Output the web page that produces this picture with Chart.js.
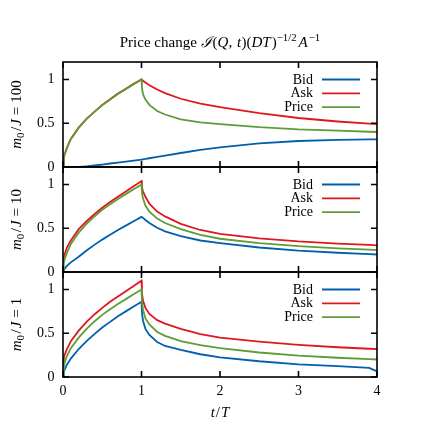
<!DOCTYPE html>
<html>
<head>
<meta charset="utf-8">
<script src="https://cdn.jsdelivr.net/npm/chart.js@4.4.0/dist/chart.umd.min.js"></script>
<style>
  html, body { margin: 0; padding: 0; background: #fff; }
  #wrap { width: 441px; height: 441px; }
</style>
</head>
<body>
<div id="wrap"><canvas id="chart" width="441" height="441"></canvas></div>
<script>
// time axis, t/T
const tValues = [0, 0.01, 0.02, 0.05, 0.1, 0.2, 0.3, 0.4, 0.5, 0.6, 0.7, 0.8, 0.9, 1.0,
  1.005, 1.01, 1.02, 1.05, 1.1, 1.2, 1.3, 1.5, 1.75, 2, 2.5, 3, 3.5, 3.9, 4];

// m0/J = 100
const bid100 = [0, 0, 0, 0, 0, 0, 0.008, 0.017, 0.028, 0.04, 0.05, 0.062, 0.074, 0.085,
  0.086, 0.087, 0.088, 0.092, 0.1, 0.115, 0.13, 0.16, 0.195, 0.225, 0.27, 0.297, 0.31, 0.315, 0.316];
const ask100 = [0, 0.1, 0.14, 0.22, 0.32, 0.45, 0.55, 0.63, 0.71, 0.775, 0.84, 0.895, 0.95, 1.0,
  0.995, 0.99, 0.985, 0.965, 0.935, 0.885, 0.845, 0.78, 0.725, 0.685, 0.615, 0.56, 0.52, 0.495, 0.49];
const price100 = [0, 0.1, 0.14, 0.22, 0.32, 0.45, 0.55, 0.63, 0.705, 0.77, 0.835, 0.89, 0.945, 1.0,
  0.92, 0.88, 0.83, 0.77, 0.71, 0.64, 0.6, 0.545, 0.51, 0.49, 0.455, 0.43, 0.415, 0.403, 0.4];

// m0/J = 10
const bid10 = [0, 0.02, 0.035, 0.07, 0.11, 0.175, 0.245, 0.31, 0.37, 0.425, 0.48, 0.53, 0.58, 0.63,
  0.628, 0.625, 0.618, 0.595, 0.56, 0.505, 0.465, 0.41, 0.36, 0.33, 0.28, 0.245, 0.22, 0.205, 0.2];
const ask10 = [0.13, 0.17, 0.2, 0.28, 0.36, 0.49, 0.58, 0.66, 0.735, 0.8, 0.86, 0.92, 0.98, 1.04,
  0.98, 0.95, 0.92, 0.86, 0.78, 0.69, 0.635, 0.55, 0.48, 0.435, 0.385, 0.35, 0.325, 0.31, 0.305];
const price10 = [0, 0.1, 0.14, 0.22, 0.32, 0.45, 0.55, 0.635, 0.71, 0.775, 0.835, 0.89, 0.945, 1.0,
  0.92, 0.88, 0.84, 0.76, 0.69, 0.61, 0.56, 0.49, 0.425, 0.38, 0.33, 0.295, 0.27, 0.255, 0.25];

// m0/J = 1
const bid1 = [0, 0.06, 0.08, 0.14, 0.21, 0.32, 0.41, 0.49, 0.565, 0.63, 0.695, 0.75, 0.805, 0.86,
  0.75, 0.7, 0.64, 0.55, 0.48, 0.4, 0.355, 0.31, 0.26, 0.225, 0.18, 0.145, 0.125, 0.105, 0.065];
const ask1 = [0.15, 0.21, 0.25, 0.32, 0.41, 0.53, 0.63, 0.715, 0.79, 0.86, 0.92, 0.98, 1.04, 1.1,
  0.98, 0.93, 0.87, 0.79, 0.72, 0.65, 0.61, 0.55, 0.49, 0.45, 0.405, 0.368, 0.34, 0.323, 0.318];
const price1 = [0, 0.11, 0.16, 0.24, 0.33, 0.45, 0.55, 0.635, 0.71, 0.775, 0.835, 0.89, 0.945, 1.0,
  0.88, 0.83, 0.77, 0.67, 0.6, 0.515, 0.47, 0.41, 0.365, 0.33, 0.28, 0.245, 0.22, 0.205, 0.2];

const xTicks = [0, 1, 2, 3, 4];
const yTicks = [0, 0.5, 1];
const xTickLabels = ['0', '1', '2', '3', '4'];
const yTickLabels = ['0', '0.5', '1'];
const panelValues = ['100', '10', '1'];   // m0/J for each panel, top to bottom
const seriesNames = ['Bid', 'Ask', 'Price'];
const seriesColors = ['#0060ad', '#dd181f', '#5e9c36'];

const panelSeries = [
  [bid100, ask100, price100],
  [bid10, ask10, price10],
  [bid1, ask1, price1],
];
const panelIds = ['y100', 'y10', 'y1'];

const FONT = 'Liberation Serif';
const FS = 14;

// draw text made of upright / italic / sub / sup pieces, centred on x
function richText(ctx, parts, x, y, fs) {
  let total = 0;
  const items = parts.map(p => {
    const size = p.s ? fs * 0.72 : fs;
    const font = (p.i ? 'italic ' : '') + size + 'px "' + FONT + '", serif';
    ctx.font = font;
    const w = ctx.measureText(p.t).width + (p.gap || 0);
    total += w;
    return { t: p.t, s: p.s, font, w };
  });
  let cx = x - total / 2;
  ctx.textAlign = 'left';
  ctx.textBaseline = 'alphabetic';
  items.forEach(p => {
    ctx.font = p.font;
    const dy = p.s === 'sup' ? -fs * 0.4 : p.s === 'sub' ? fs * 0.22 : 0;
    ctx.fillText(p.t, cx, y + dy);
    cx += p.w;
  });
}

const framePlugin = {
  id: 'frame',
  afterDatasetsDraw(chart) {
    const ctx = chart.ctx;
    const xs = chart.scales.x;
    const left = xs.left, right = xs.right;
    ctx.save();
    ctx.strokeStyle = '#000';
    ctx.fillStyle = '#000';
    ctx.lineWidth = 1.6;

    panelIds.forEach((id, p) => {
      const s = chart.scales[id];
      const top = s.top, bottom = s.bottom;
      // inward ticks
      ctx.beginPath();
      xTicks.forEach(v => {
        const x = xs.getPixelForValue(v);
        ctx.moveTo(x, top); ctx.lineTo(x, top + 6);
        ctx.moveTo(x, bottom); ctx.lineTo(x, bottom - 6);
      });
      yTicks.forEach(v => {
        const y = s.getPixelForValue(v);
        ctx.moveTo(left, y); ctx.lineTo(left + 6, y);
        ctx.moveTo(right, y); ctx.lineTo(right - 6, y);
      });
      ctx.stroke();
      ctx.strokeRect(left, top, right - left, bottom - top);

      // legend, one per panel
      const y0 = s.getPixelForValue(1);
      seriesNames.forEach((name, i) => {
        const y = y0 + i * 13.8;
        ctx.font = FS + 'px "' + FONT + '", serif';
        ctx.textAlign = 'right';
        ctx.textBaseline = 'middle';
        ctx.fillStyle = '#000';
        ctx.fillText(name, right - 64, y + 0.5);
        ctx.strokeStyle = seriesColors[i];
        ctx.lineWidth = 1.8;
        ctx.beginPath();
        ctx.moveTo(right - 55, y); ctx.lineTo(right - 17, y);
        ctx.stroke();
        ctx.strokeStyle = '#000';
        ctx.lineWidth = 1.6;
      });

      // panel y title  m0/J = ...
      ctx.save();
      ctx.translate(20.5, (top + bottom) / 2);
      ctx.rotate(-Math.PI / 2);
      ctx.fillStyle = '#000';
      richText(ctx, [
        { t: 'm', i: true }, { t: '0', s: 'sub', gap: 1.5 }, { t: '/', gap: 1 }, { t: 'J', i: true, gap: 4 },
        { t: '=', gap: 4 }, { t: panelValues[p] }
      ], 0, 0, 15);
      ctx.restore();
    });

    // main title
    ctx.fillStyle = '#000';
    richText(ctx, [
      { t: 'Price change ' }, { t: 'ℐ', i: true, gap: 1 }, { t: '(' }, { t: 'Q', i: true }, { t: ', ', gap: 1 },
      { t: 't', i: true, gap: 0.5 }, { t: ')(' }, { t: 'DT', i: true, gap: 1 }, { t: ')' }, { t: '−1/2', s: 'sup', gap: 2 },
      { t: 'A', i: true, gap: 1 }, { t: '−1', s: 'sup' }
    ], (left + right) / 2, 46.5, 15);

    // x title t/T
    richText(ctx, [{ t: 't', i: true, gap: 1 }, { t: '/', gap: 1 }, { t: 'T', i: true }], (left + right) / 2, 416.5, 15);
    ctx.restore();
  }
};

const datasets = [];
panelSeries.forEach((series, p) => {
  // Price drawn on top, then Ask, then Bid
  [2, 1, 0].forEach(k => {
    datasets.push({
      label: seriesNames[k] + ' ' + panelValues[p],
      data: tValues.map((t, i) => ({ x: t, y: series[k][i] })),
      yAxisID: panelIds[p],
      borderColor: seriesColors[k],
      borderWidth: 1.8,
      pointRadius: 0,
      tension: 0,
      fill: false,
    });
  });
});

function yAxis() {
  return {
    type: 'linear',
    position: 'left',
    stack: 'panels',
    stackWeight: 1,
    min: 0,
    max: 1.2,
    afterBuildTicks: s => { s.ticks = yTicks.map(v => ({ value: v })); },
    afterFit: s => { s.width = 63; },
    grid: { display: false, drawTicks: false },
    border: { display: false },
    ticks: {
      padding: 8.5, color: '#000', font: { family: FONT, size: FS },
      callback: (v, i) => yTickLabels[i],
    },
  };
}

new Chart(document.getElementById('chart'), {
  type: 'line',
  data: { datasets },
  options: {
    responsive: false,
    animation: false,
    layout: { padding: { top: 62, right: 64, left: 0, bottom: 0 } },
    plugins: { legend: { display: false }, title: { display: false }, tooltip: { enabled: false } },
    scales: {
      x: {
        type: 'linear',
        min: 0,
        max: 4,
        position: 'bottom',
        afterBuildTicks: s => { s.ticks = xTicks.map(v => ({ value: v })); },
        afterFit: s => { s.height = 64; },
        grid: { display: false, drawTicks: false },
        border: { display: false },
        ticks: {
          padding: 6, color: '#000', font: { family: FONT, size: FS },
          callback: (v, i) => xTickLabels[i],
        },
      },
      // defined bottom first: the last stacked axis is placed on top
      y1: yAxis(),
      y10: yAxis(),
      y100: yAxis(),
    },
  },
  plugins: [framePlugin],
});
</script>
</body>
</html>
